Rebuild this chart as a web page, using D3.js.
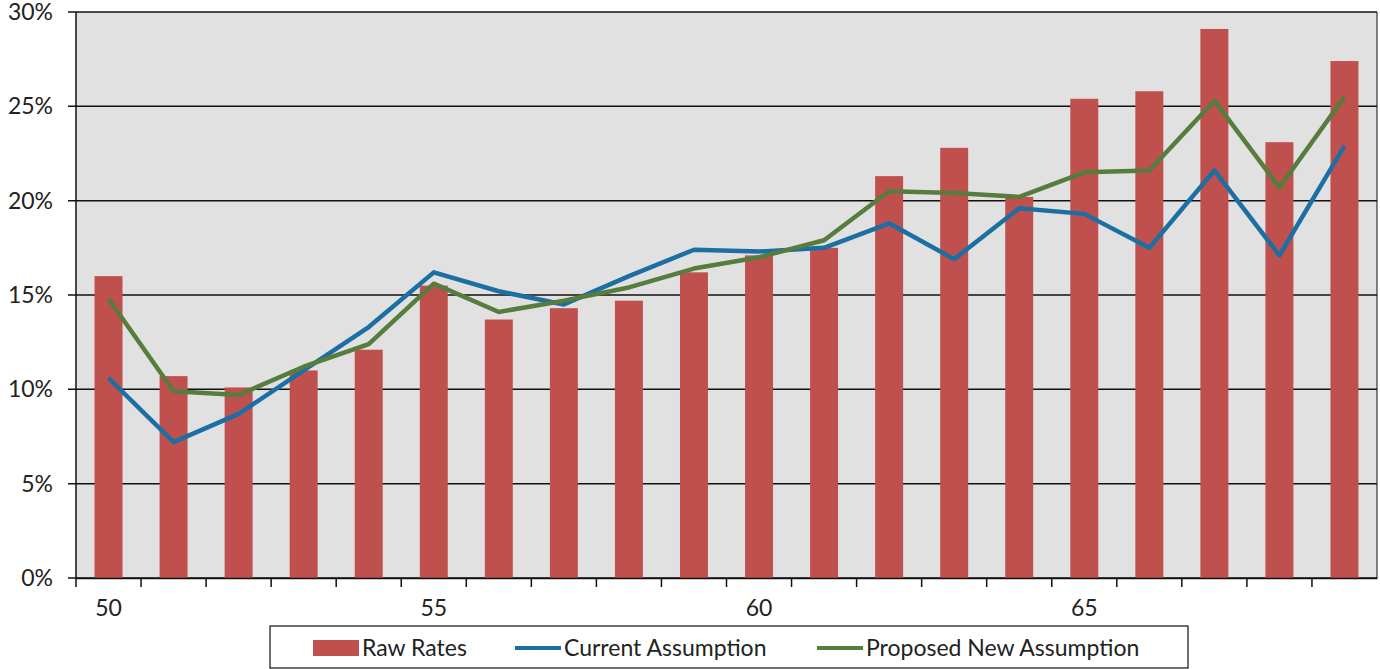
<!DOCTYPE html>
<html>
<head>
<meta charset="utf-8">
<script src="https://cdn.jsdelivr.net/npm/d3@7"></script>
<style>
  body { margin: 0; background: #fff; }
  text { font-family: Lato, "Open Sans", sans-serif; fill: #222; }
</style>
</head>
<body>
<script>
    //Data
        const ages = [50, 51, 52, 53, 54, 55, 56, 57, 58, 59, 60, 61, 62, 63, 64, 65, 66, 67, 68, 69];
        const rawRates = [16.0, 10.7, 10.1, 11.0, 12.1, 15.5, 13.7, 14.3, 14.7, 16.2, 17.1, 17.5, 21.3, 22.8, 20.2, 25.4, 25.8, 29.1, 23.1, 27.4];
        const currentAssumption = [10.6, 7.2, 8.7, 11.0, 13.3, 16.2, 15.2, 14.5, 16.0, 17.4, 17.3, 17.5, 18.8, 16.9, 19.6, 19.3, 17.5, 21.6, 17.1, 22.9];
        const proposedAssumption = [14.8, 9.9, 9.7, 11.2, 12.4, 15.6, 14.1, 14.7, 15.4, 16.4, 17.0, 17.9, 20.5, 20.4, 20.2, 21.5, 21.6, 25.3, 20.7, 25.5];
        const yTicks = [0, 5, 10, 15, 20, 25, 30];
        const xLabels = [50, 55, 60, 65];
        const seriesNames = ["Raw Rates", "Current Assumption", "Proposed New Assumption"];

    //Consts
        const width = 1380;
        const height = 669;
        const plotLeft = 76, plotRight = 1377, plotTop = 12, plotBottom = 578;
        const red = "#C0504D", blue = "#1B6FA3", green = "#567D3E";
        const fontSize = 23;

    //Scales
        const xScale = d3.scaleBand()
                        .domain(ages)
                        .range([plotLeft, plotRight]);

        const yScale = d3.scaleLinear()
                        .domain([0, 30])
                        .range([plotBottom, plotTop]);

    //SVG
        const svg = d3.select("body")
                    .append("svg")
                    .attr("width", width)
                    .attr("height", height);

        svg.append("rect")
            .attr("x", plotLeft).attr("y", plotTop)
            .attr("width", plotRight - plotLeft).attr("height", plotBottom - plotTop)
            .attr("fill", "#E1E1E1");

    //Gridlines
        svg.selectAll(".grid")
            .data(yTicks)
            .enter()
            .append("line")
            .attr("x1", plotLeft - 8).attr("x2", plotRight)
            .attr("y1", d => yScale(d)).attr("y2", d => yScale(d))
            .attr("stroke", "#111")
            .attr("stroke-width", 1.5);

        svg.selectAll(".ylab")
            .data(yTicks)
            .enter()
            .append("text")
            .attr("x", 53)
            .attr("y", d => yScale(d) + 8)
            .attr("text-anchor", "end")
            .attr("font-size", fontSize)
            .text(d => d + "%");

    //Bars
        const barW = xScale.bandwidth() * 0.43;
        svg.selectAll(".bar")
            .data(ages)
            .enter()
            .append("rect")
            .attr("x", (d, i) => xScale(d) + (xScale.bandwidth() - barW) / 2)
            .attr("y", (d, i) => yScale(rawRates[i]))
            .attr("width", barW)
            .attr("height", (d, i) => plotBottom - yScale(rawRates[i]))
            .attr("fill", red);

    //Lines
        const line = d3.line()
                    .x((d, i) => xScale(ages[i]) + xScale.bandwidth() / 2)
                    .y(d => yScale(d));

        svg.append("path")
            .datum(currentAssumption)
            .attr("d", line)
            .attr("fill", "none")
            .attr("stroke", blue)
            .attr("stroke-width", 4.5)
            .attr("stroke-linejoin", "round");

        svg.append("path")
            .datum(proposedAssumption)
            .attr("d", line)
            .attr("fill", "none")
            .attr("stroke", green)
            .attr("stroke-width", 4.5)
            .attr("stroke-linejoin", "round");

    //Axes
        svg.append("line")
            .attr("x1", plotLeft).attr("x2", plotLeft)
            .attr("y1", plotTop).attr("y2", plotBottom)
            .attr("stroke", "#111").attr("stroke-width", 1.5);

        svg.append("line")
            .attr("x1", plotRight).attr("x2", plotRight)
            .attr("y1", plotTop).attr("y2", plotBottom)
            .attr("stroke", "#111").attr("stroke-width", 1);

        const bottomAxis = d3.axisBottom()
                             .scale(xScale)
                             .tickValues(xLabels)
                             .tickSize(0)
                             .tickPadding(22);

        const xAxis = svg.append("g")
            .attr("transform", "translate(0," + plotBottom + ")")
            .call(bottomAxis);
        xAxis.select(".domain").attr("stroke", "#111").attr("stroke-width", 1.5);
        xAxis.selectAll("text").attr("font-size", fontSize).attr("font-family", "Lato, sans-serif").attr("fill", "#222");

        svg.selectAll(".xtick")
            .data(ages)
            .enter()
            .append("line")
            .attr("x1", d => xScale(d)).attr("x2", d => xScale(d))
            .attr("y1", plotBottom).attr("y2", plotBottom + 9)
            .attr("stroke", "#111").attr("stroke-width", 1.5);

    //Legend
        svg.append("rect")
            .attr("x", 270).attr("y", 626)
            .attr("width", 918).attr("height", 42)
            .attr("fill", "#fff")
            .attr("stroke", "#111")
            .attr("stroke-width", 1.2);

        const legendX = [313, 515, 817];
        const legend = svg.selectAll(".legend")
            .data(seriesNames)
            .enter()
            .append("g")
            .attr("transform", (d, i) => "translate(" + legendX[i] + ",648)");

        legend.filter((d, i) => i === 0)
            .append("rect")
            .attr("x", 0).attr("y", -8)
            .attr("width", 46).attr("height", 16)
            .attr("fill", red);

        legend.filter((d, i) => i > 0)
            .append("line")
            .attr("x1", 0).attr("x2", 46)
            .attr("y1", 0).attr("y2", 0)
            .attr("stroke", (d, i) => i === 0 ? blue : green)
            .attr("stroke-width", 4);

        legend.append("text")
            .attr("x", 49)
            .attr("y", 8)
            .attr("font-size", fontSize)
            .text(d => d);
</script>
</body>
</html>
